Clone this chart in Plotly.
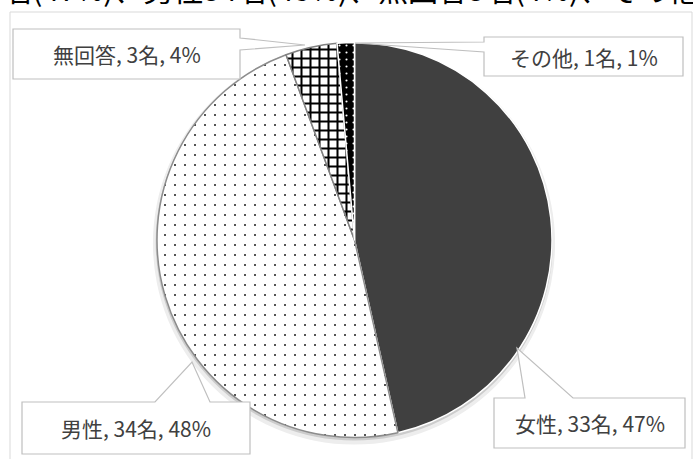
import plotly.graph_objects as go

# ---- data ----
categories = ["女性", "男性", "無回答", "その他"]
counts = [33, 34, 3, 1]
percents = [47, 48, 4, 1]

W, H = 693, 459
FONT = "Noto Sans CJK JP"

# pie geometry (pixels)
cx, cy, r = 354.5, 240, 197.5

def dom(x0, x1, y0, y1):
    return dict(x=[x0 / W, x1 / W], y=[1 - y1 / H, 1 - y0 / H])

fig = go.Figure()

# soft shadow behind pie
fig.add_trace(go.Pie(
    values=[1], labels=["shadow"], sort=False, textinfo="none", hoverinfo="skip",
    marker=dict(colors=["#ededed"], line=dict(width=0)),
    domain=dom(cx - r - 4, cx + r + 3, cy - r, cy + r + 7), showlegend=False,
))
fig.add_trace(go.Pie(
    values=[1], labels=["shadow2"], sort=False, textinfo="none", hoverinfo="skip",
    marker=dict(colors=["#cccccc"], line=dict(width=0)),
    domain=dom(cx - r - 1.5, cx + r + 1, cy - r + 1, cy + r + 3), showlegend=False,
))

fig.add_trace(go.Pie(
    labels=categories, values=counts, sort=False, direction="clockwise", rotation=0,
    textinfo="none", hoverinfo="label+value",
    marker=dict(
        colors=["#404040", "#ffffff", "#ffffff", "#000000"],
        line=dict(color=["#ffffff", "#8c8c8c", "#808080", "#ffffff"], width=1.5),
        pattern=dict(
            shape=["", ".", "+", "."],
            bgcolor=["#404040", "#ffffff", "#ffffff", "#000000"],
            fgcolor=["#404040", "#000000", "#000000", "#ffffff"],
            size=[8, 10, 9, 7],
            solidity=[0.1, 0.025, 0.4, 0.07],
            fillmode="replace",
        ),
    ),
    domain=dom(cx - r, cx + r, cy - r, cy + r), showlegend=False,
))

# callout boxes (pixel coordinates on a hidden axis)
callouts = {
    "無回答": dict(box=(13, 29, 240, 79),
                 path="M13,29 L240,29 L240,38 L305,45 L240,50 L240,79 L13,79 Z"),
    "その他": dict(box=(484, 37, 683, 76),
                 path="M484,37 L683,37 L683,76 L484,76 L484,52 L355,43 L484,42 Z"),
    "男性": dict(box=(22, 402, 250, 454),
                path="M22,402 L155,402 L192,362 L210,402 L250,402 L250,454 L22,454 Z"),
    "女性": dict(box=(494, 398, 685, 448),
                path="M494,398 L525,398 L517,348 L573,398 L685,398 L685,448 L494,448 Z"),
}

shapes = [
    # chart area border
    dict(type="rect", xref="x", yref="y", x0=10, y0=12, x1=692, y1=470,
         line=dict(color="#d9d9d9", width=1), fillcolor="rgba(0,0,0,0)", layer="below"),
]
annotations = []
for cat, n, p in zip(categories, counts, percents):
    c = callouts[cat]
    shapes.append(dict(type="path", xref="x", yref="y", path=c["path"],
                       fillcolor="#ffffff", line=dict(color="#bfbfbf", width=1.2),
                       layer="above"))
    x0, y0, x1, y1 = c["box"]
    annotations.append(dict(
        x=(x0 + x1) / 2, y=(y0 + y1) / 2, xref="x", yref="y",
        text=f"{cat}, {n}名, {p}%", showarrow=False,
        font=dict(family=FONT, size=21, color="#404040"),
        xanchor="center", yanchor="middle",
    ))

# title text, clipped at the top edge as in the reference
title_text = "、".join(f"{c}{n}名({p}%)" for c, n, p in zip(categories, counts, percents))
annotations.append(dict(
    x=360 / W, y=1 + 12 / H, xref="paper", yref="paper", text=title_text, showarrow=False,
    font=dict(family=FONT, size=30, color="#000000"),
    xanchor="center", yanchor="middle",
))

fig.update_layout(
    width=W, height=H,
    margin=dict(l=0, r=0, t=0, b=0),
    paper_bgcolor="#ffffff", plot_bgcolor="rgba(0,0,0,0)",
    xaxis=dict(range=[0, W], visible=False, fixedrange=True),
    yaxis=dict(range=[H, 0], visible=False, fixedrange=True),
    shapes=shapes, annotations=annotations,
    showlegend=False,
)

fig.write_html("out.html", config={"displayModeBar": False},
               post_script="document.body.style.margin='0';")
